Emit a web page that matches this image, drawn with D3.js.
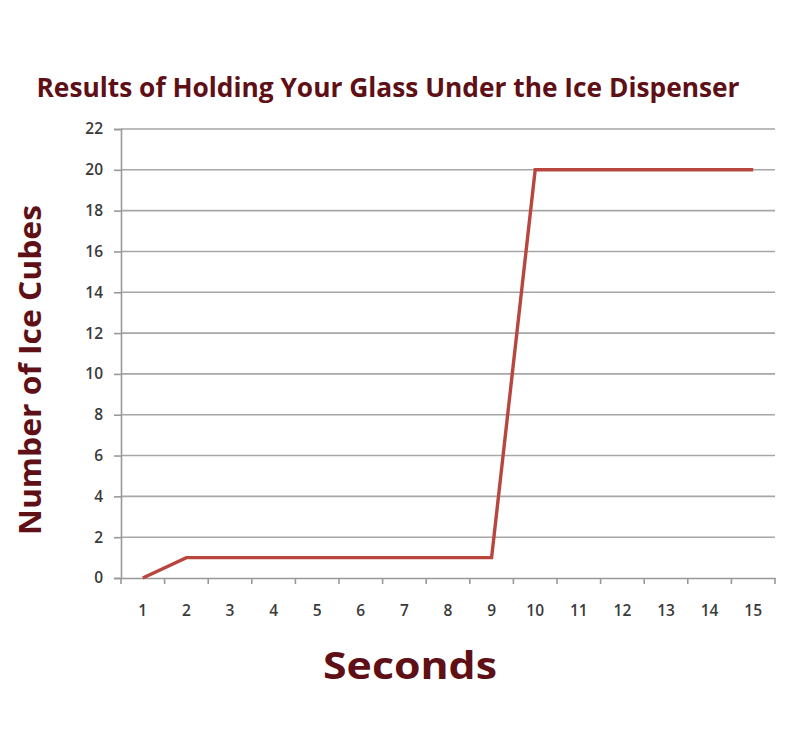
<!DOCTYPE html>
<html><head><meta charset="utf-8">
<script src="https://cdn.jsdelivr.net/npm/d3@7"></script>
<style>body{margin:0;background:#fff}</style>
</head><body>
<svg id="c" width="800" height="755"></svg>
<script>
const categories = ["1","2","3","4","5","6","7","8","9","10","11","12","13","14","15"];
const iceCubes = [0,1,1,1,1,1,1,1,1,20,20,20,20,20,20];
const yTicks = [0,2,4,6,8,10,12,14,16,18,20,22];
const titleText = "Results of Holding Your Glass Under the Ice Dispenser";
const xTitle = "Seconds";
const yTitle = "Number of Ice Cubes";

const svg = d3.select("#c");
const L = 121, R = 775, T = 129, B = 578;
const x = d3.scaleBand().domain(categories).range([L, R]);
const y = d3.scaleLinear().domain([0, 22]).range([B, T]);
const maroon = "#5e1016";
const font = "'Open Sans', Lato, sans-serif";

// gridlines
svg.append("g").selectAll("line").data(yTicks.filter(d => d > 0)).join("line")
  .attr("x1", L).attr("x2", R).attr("y1", d => y(d)).attr("y2", d => y(d))
  .attr("stroke", "#a6a6a6").attr("stroke-width", 1.6);

// y axis
const ya = svg.append("g").attr("transform", `translate(${L},0)`)
  .call(d3.axisLeft(y).tickValues(yTicks).tickSize(7).tickPadding(11));
ya.select(".domain").attr("stroke", "#999").attr("stroke-width", 1.6);
ya.selectAll(".tick line").attr("stroke", "#999").attr("stroke-width", 1.6);
ya.selectAll(".tick text").attr("font-family", font).attr("font-size", 15.5)
  .attr("font-weight", 600).attr("fill", "#3a3a3a");

// x axis
const xa = svg.append("g").attr("transform", `translate(0,${B})`)
  .call(d3.axisBottom(x).tickSize(0).tickPadding(27));
xa.select(".domain").attr("stroke", "#999").attr("stroke-width", 1.6);
xa.selectAll(".tick text").attr("font-family", font).attr("font-size", 15.5)
  .attr("font-weight", 600).attr("fill", "#3a3a3a");
// boundary ticks
const bounds = categories.map(c => x(c)).concat([R]);
svg.append("g").selectAll("line").data(bounds).join("line")
  .attr("x1", d => d).attr("x2", d => d).attr("y1", B).attr("y2", B + 6)
  .attr("stroke", "#999").attr("stroke-width", 1.6);

// line
const line = d3.line().x((d, i) => x(categories[i]) + x.bandwidth() / 2).y(d => y(d));
svg.append("path").datum(iceCubes).attr("d", line)
  .attr("fill", "none").attr("stroke", "#b8463f").attr("stroke-width", 3.4)
  .attr("stroke-linejoin", "miter");

// titles
svg.append("text").attr("x", 388).attr("y", 97).attr("text-anchor", "middle")
  .attr("font-family", font).attr("font-weight", 700).attr("font-size", 26)
  .attr("fill", maroon).attr("textLength", 703).attr("lengthAdjust", "spacingAndGlyphs")
  .text(titleText);
svg.append("text").attr("x", 410).attr("y", 679).attr("text-anchor", "middle")
  .attr("font-family", font).attr("font-weight", 700).attr("font-size", 38)
  .attr("fill", maroon).attr("textLength", 174).attr("lengthAdjust", "spacingAndGlyphs")
  .text(xTitle);
svg.append("text").attr("transform", "translate(41,370) rotate(-90)").attr("text-anchor", "middle")
  .attr("font-family", font).attr("font-weight", 700).attr("font-size", 31)
  .attr("fill", maroon).attr("textLength", 330).attr("lengthAdjust", "spacingAndGlyphs")
  .text(yTitle);
</script>
</body></html>
